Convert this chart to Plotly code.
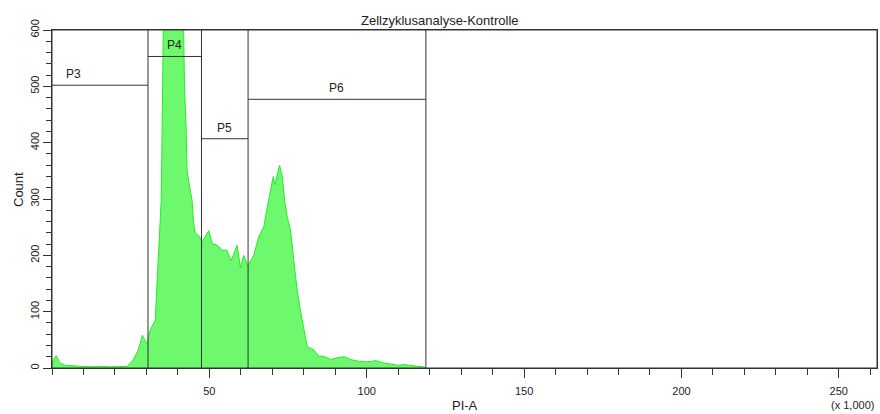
import plotly.graph_objects as go

# --- data (PI-A in x1000, count) ---
pi_a = [0.0, 0.5, 1.3, 2.5, 4.1, 5.7, 8.9, 12.1, 15.3, 18.5, 21.7, 23.9, 25.8, 27.4, 28.7, 29.6,
        30.4, 30.6, 31.2, 32.8, 33.9, 34.4, 34.7, 34.9, 35.1, 35.4, 37.6, 39.8, 41.8, 42.1, 42.6,
        42.9, 43.9, 44.5, 45.0, 45.5, 46.9, 47.7, 48.7, 49.8, 50.9, 52.5, 54.0, 55.6, 56.9, 58.8,
        59.9, 60.9, 62.2, 64.1, 65.7, 67.3, 68.4, 69.4, 70.3, 70.8, 71.6, 72.3, 73.2, 73.9, 74.7,
        75.8, 76.8, 77.9, 79.0, 80.6, 81.1, 82.2, 83.2, 84.8, 86.3, 88.5, 90.4, 92.8, 94.9, 97.5,
        100.2, 103.0, 105.4, 107.5, 109.8, 112.0, 114.0, 116.0, 118.2, 118.8]
count = [5, 15, 22, 9, 5, 4, 3, 2, 3, 2, 2, 3, 14, 32, 58, 50,
         41, 55, 67, 85, 198, 257, 298, 381, 529, 620, 700, 720, 610, 499, 428,
         351, 316, 298, 257, 240, 233, 224, 233, 244, 221, 218, 209, 209, 190, 218,
         178, 200, 181, 200, 233, 251, 286, 316, 340, 325, 346, 360, 340, 298, 269,
         245, 192, 138, 100, 50, 38, 35, 32, 21, 21, 15, 18, 20, 15, 12,
         11, 13, 9, 7, 5, 6, 4, 3, 2, 0]

gate_names = ["P3", "P4", "P5", "P6"]
gate_x0 = [0.0, 30.5, 47.5, 62.3]
gate_x1 = [30.5, 47.5, 62.3, 118.8]
gate_level = [502, 553, 407, 477]

x_ticks = [50, 100, 150, 200, 250]
x_max = 262.144
y_max = 600

ML, MR, MT, MB = 52, 3, 30, 46
W, H = 880, 414

fig = go.Figure()
fig.add_trace(go.Scatter(
    x=pi_a, y=count, mode="lines", fill="tozeroy",
    line=dict(color="rgb(40,235,40)", width=1),
    fillcolor="rgb(110,248,110)", hoverinfo="skip", showlegend=False,
))

shapes = [dict(type="rect", xref="paper", yref="paper", x0=0, x1=1, y0=0, y1=1,
               line=dict(color="#333333", width=1), layer="above")]
label_dx = [-8.3, 0, 0, 0]  # P3 label sits left of gate centre
for name, x0, x1, lv, dx in zip(gate_names, gate_x0, gate_x1, gate_level, label_dx):
    line = dict(color="#333333", width=1)
    shapes.append(dict(type="line", xref="x", yref="y", x0=x0, x1=x1, y0=lv, y1=lv, line=line))
    shapes.append(dict(type="line", xref="x", yref="y", x0=x1, x1=x1, y0=0, y1=y_max, line=line))
    fig.add_annotation(x=(x0 + x1) / 2 + dx, y=lv, text=name, showarrow=False,
                       xref="x", yref="y", yanchor="bottom", yshift=2,
                       font=dict(family="Liberation Sans", size=12, color="#222222"))

fig.update_layout(
    width=W, height=H,
    margin=dict(l=ML, r=MR, t=MT, b=MB, autoexpand=False),
    paper_bgcolor="white", plot_bgcolor="white",
    shapes=shapes,
    font=dict(family="Liberation Sans", size=11, color="#222222"),
    showlegend=False,
)

fig.update_xaxes(
    range=[0, x_max], tickmode="array", tickvals=x_ticks, automargin=False,
    ticks="outside", ticklen=9, tickcolor="#333333", tickwidth=1, ticklabelstandoff=4,
    minor=dict(tickmode="linear", tick0=0, dtick=10, ticks="outside", ticklen=6, tickcolor="#333333"),
    showline=True, linecolor="#333333", linewidth=1, mirror=True,
    showgrid=False, zeroline=False,
    tickfont=dict(family="Liberation Sans", size=11, color="#222222"),
)
fig.update_yaxes(
    range=[0, y_max], tickmode="linear", tick0=0, dtick=100, tickangle=-90, automargin=False,
    ticks="outside", ticklen=8, tickcolor="#333333", tickwidth=1,
    minor=dict(tickmode="linear", tick0=0, dtick=20, ticks="outside", ticklen=5, tickcolor="#333333"),
    showline=True, linecolor="#333333", linewidth=1, mirror=True,
    showgrid=False, zeroline=False,
    tickfont=dict(family="Liberation Sans", size=11, color="#222222"),
)

pw, ph = W - ML - MR, H - MT - MB
def px(xp):
    return (xp - ML) / pw
def py(yp):
    return (H - MB - yp) / ph

common = dict(xref="paper", yref="paper", showarrow=False, xanchor="center", yanchor="middle")
fig.add_annotation(x=px(440), y=py(20), text="Zellzyklusanalyse-Kontrolle",
                   font=dict(size=13, color="#222222"), **common)
fig.add_annotation(x=px(465), y=py(406), text="PI-A",
                   font=dict(size=13, color="#222222"), **common)
fig.add_annotation(x=px(18), y=py(190), text="Count", textangle=-90,
                   font=dict(size=13, color="#222222"), **common)
fig.add_annotation(x=px(852), y=py(405), text="(x 1,000)",
                   font=dict(size=11, color="#222222"), **common)

fig.write_html(
    "out.html",
    config={"displayModeBar": False},
    post_script="document.body.style.margin='0';document.body.style.overflow='hidden';",
)
